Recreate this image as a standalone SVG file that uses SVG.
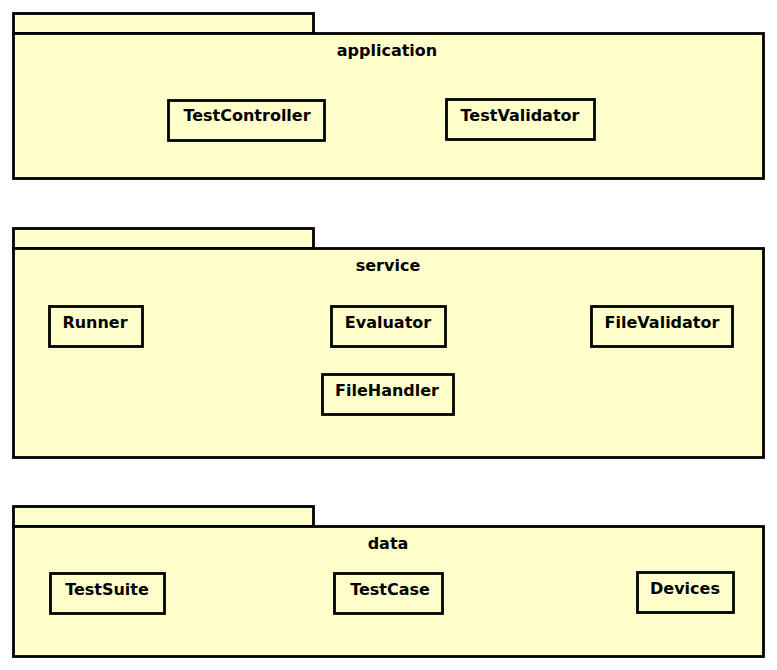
<svg xmlns="http://www.w3.org/2000/svg" width="777" height="670" viewBox="0 0 777 670">
<style>
.pk{fill:#FFFFCC;stroke:#000;stroke-width:2.8}
.cl{fill:#FFFFCC;stroke:#000;stroke-width:2.8}
text{font-family:"DejaVu Sans",sans-serif;font-weight:bold;font-size:16px;fill:#000;text-anchor:middle}
</style>
<rect width="777" height="670" fill="#fff"/>
<g id="pkg-application">
<rect class="pk" x="13.5" y="13.5" width="300" height="20"/>
<rect class="pk" x="13.5" y="33.5" width="750" height="145"/>
<text x="387" y="56">application</text>
</g>
<g id="pkg-service">
<rect class="pk" x="13.5" y="228.5" width="300" height="20"/>
<rect class="pk" x="13.5" y="248.5" width="750" height="209"/>
<text x="388" y="271">service</text>
</g>
<g id="pkg-data">
<rect class="pk" x="13.5" y="506.5" width="300" height="20"/>
<rect class="pk" x="13.5" y="526.5" width="750" height="130"/>
<text x="388" y="549">data</text>
</g>
<g id="TestController"><rect class="cl" x="168.5" y="100.5" width="156" height="40"/><text x="247" y="121">TestController</text></g>
<g id="TestValidator"><rect class="cl" x="446.5" y="99.5" width="148" height="40"/><text x="520" y="121">TestValidator</text></g>
<g id="Runner"><rect class="cl" x="49.5" y="306.5" width="93" height="40"/><text x="95" y="328">Runner</text></g>
<g id="Evaluator"><rect class="cl" x="331.5" y="306.5" width="114" height="40"/><text x="388" y="328">Evaluator</text></g>
<g id="FileValidator"><rect class="cl" x="591.5" y="306.5" width="141" height="40"/><text x="662" y="328">FileValidator</text></g>
<g id="FileHandler"><rect class="cl" x="322.5" y="374.5" width="131" height="40"/><text x="387" y="396">FileHandler</text></g>
<g id="TestSuite"><rect class="cl" x="50.5" y="573.5" width="114" height="40"/><text x="107" y="595">TestSuite</text></g>
<g id="TestCase"><rect class="cl" x="334.5" y="573.5" width="108" height="40"/><text x="390" y="595">TestCase</text></g>
<g id="Devices"><rect class="cl" x="637.5" y="572.5" width="96" height="40"/><text x="685" y="594">Devices</text></g>
<g id="connectors"></g>
</svg>
